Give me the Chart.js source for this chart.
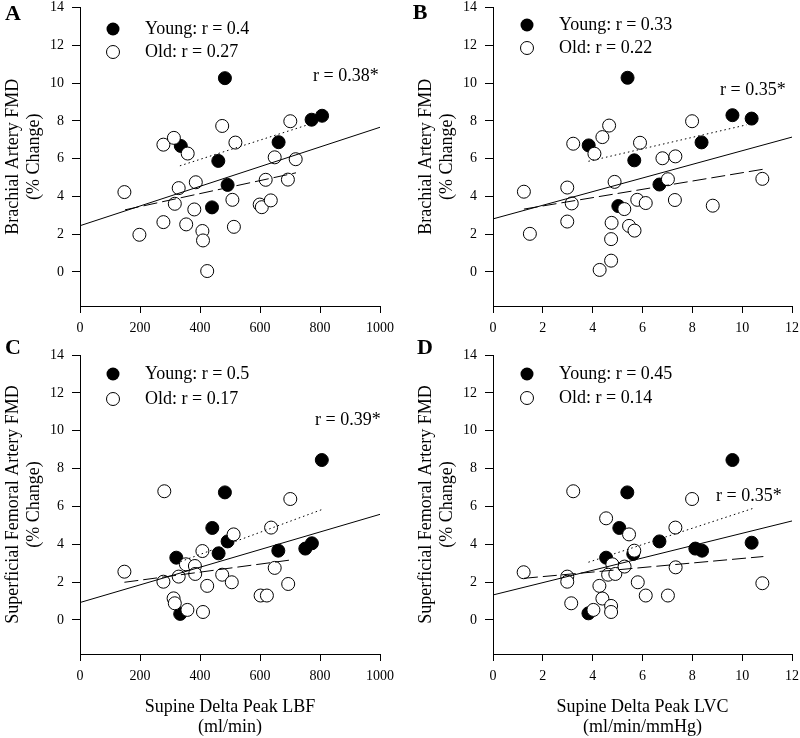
<!DOCTYPE html>
<html>
<head>
<meta charset="utf-8">
<script src="https://cdn.jsdelivr.net/npm/chart.js@4.4.1/dist/chart.umd.min.js"></script>
<style>
  body { margin: 0; background: #fff; }
  #wrap { position: relative; width: 800px; height: 738px; overflow: hidden; }
  canvas { position: absolute; }
</style>
</head>
<body>
<div id="wrap">
  <canvas id="chartA" width="400" height="345" style="left:0px;top:0px"></canvas>
  <canvas id="chartB" width="400" height="345" style="left:400px;top:0px"></canvas>
  <canvas id="chartC" width="400" height="408" style="left:0px;top:330px"></canvas>
  <canvas id="chartD" width="400" height="408" style="left:400px;top:330px"></canvas>
</div>
<script>
// ---- data ----
var lbfTicks = [0, 200, 400, 600, 800, 1000];
var lvcTicks = [0, 2, 4, 6, 8, 10, 12];
var fmdTicks = [0, 2, 4, 6, 8, 10, 12, 14];

// A: brachial FMD vs LBF
var aYoungX = [483, 336, 461, 492, 440, 662, 772, 807];
var aYoungY = [10.26, 6.67, 5.88, 4.61, 3.42, 6.87, 8.06, 8.27];
var aOldX = [148, 198, 278, 313, 359, 329, 386, 316, 381, 278, 354, 408, 410, 424, 474, 518, 508, 513, 599, 606, 636, 619, 649, 693, 701, 719];
var aOldY = [4.23, 1.97, 6.74, 7.10, 6.27, 4.44, 4.75, 3.61, 3.31, 2.64, 2.52, 2.17, 1.67, 0.05, 7.73, 6.85, 3.82, 2.39, 3.57, 3.43, 3.79, 4.88, 6.07, 4.89, 7.98, 5.97];
var aFitAllX = [0, 1000], aFitAllY = [2.45, 7.66];
var aFitYoungX = [333, 767], aFitYoungY = [5.62, 7.83];
var aFitOldX = [150, 720], aFitOldY = [3.29, 5.25];

// B: brachial FMD vs LVC
var bYoungX = [5.40, 3.84, 5.67, 6.68, 5.03, 8.37, 9.61, 10.38];
var bYoungY = [10.28, 6.70, 5.91, 4.63, 3.49, 6.86, 8.30, 8.12];
var bOldX = [1.24, 1.48, 3.22, 4.07, 4.39, 4.66, 2.98, 3.16, 2.98, 4.88, 5.27, 4.76, 4.74, 4.74, 4.28, 5.46, 5.68, 5.79, 6.13, 5.90, 6.80, 7.32, 7.02, 7.30, 7.99, 8.82, 10.81];
var bOldY = [4.25, 2.02, 6.79, 6.26, 7.14, 7.75, 4.47, 3.63, 2.67, 4.77, 3.33, 2.60, 1.74, 0.60, 0.11, 2.44, 2.19, 3.82, 3.65, 6.84, 6.02, 6.12, 4.91, 3.81, 7.98, 3.51, 4.93];
var bFitAllX = [0, 12], bFitAllY = [2.81, 7.14];
var bFitYoungX = [3.83, 10.18], bFitYoungY = [5.86, 7.79];
var bFitOldX = [1.24, 10.85], bFitOldY = [3.33, 5.44];

// C: femoral FMD vs LBF
var cYoungX = [483, 441, 492, 462, 321, 334, 661, 751, 773, 806];
var cYoungY = [6.74, 4.86, 4.15, 3.52, 3.29, 0.32, 3.66, 3.77, 4.05, 8.45];
var cOldX = [148, 281, 278, 329, 312, 316, 358, 353, 383, 384, 408, 424, 410, 474, 506, 512, 602, 623, 637, 649, 694, 701];
var cOldY = [2.55, 6.80, 2.02, 2.29, 1.14, 0.88, 0.53, 2.94, 2.85, 2.43, 3.64, 1.80, 0.42, 2.39, 1.99, 4.52, 1.29, 1.29, 4.88, 2.75, 1.90, 6.39];
var cFitAllX = [0, 1000], cFitAllY = [0.92, 5.58];
var cFitYoungX = [321, 811], cFitYoungY = [3.0, 5.86];
var cFitOldX = [148, 703], cFitOldY = [1.99, 3.17];

// D: femoral FMD vs LVC
var dYoungX = [9.61, 5.39, 5.07, 6.68, 4.54, 5.63, 3.83, 8.12, 8.39, 10.38];
var dYoungY = [8.45, 6.74, 4.86, 4.15, 3.29, 3.49, 0.35, 3.77, 3.66, 4.08];
var dOldX = [1.23, 3.22, 2.98, 2.98, 3.14, 4.03, 4.27, 4.39, 4.74, 4.74, 4.54, 4.79, 4.62, 4.91, 5.28, 5.46, 5.67, 5.81, 6.13, 7.02, 7.32, 7.33, 7.99, 10.81];
var dOldY = [2.52, 6.80, 2.29, 2.02, 0.88, 0.53, 1.80, 1.13, 0.74, 0.42, 5.37, 2.94, 2.39, 2.43, 2.82, 4.52, 3.66, 1.99, 1.29, 1.29, 4.88, 2.78, 6.39, 1.94];
var dFitAllX = [0, 12], dFitAllY = [1.32, 5.23];
var dFitYoungX = [3.83, 10.45], dFitYoungY = [3.05, 5.90];
var dFitOldX = [1.24, 10.85], dFitOldY = [2.20, 3.35];

var FONT = "'Liberation Serif', 'Times New Roman', serif";

function pts(xs, ys) {
    var out = [];
    for (var i = 0; i < xs.length; i++) out.push({x: xs[i], y: ys[i]});
    return out;
}

function fitLine(xs, ys, dash) {
    return {
        type: 'line',
        data: pts(xs, ys),
        borderColor: '#000',
        borderWidth: 1,
        borderDash: dash,
        pointRadius: 0,
        fill: false,
        tension: 0
    };
}

// panel letter, legend, r label
var notesPlugin = {
    id: 'notes',
    afterDraw: function(chart) {
        var n = chart.options.plugins.notes;
        var ctx = chart.ctx;
        ctx.save();
        ctx.fillStyle = '#000';
        ctx.textBaseline = 'middle';
        ctx.textAlign = 'center';
        ctx.font = 'bold 22px ' + FONT;
        ctx.fillText(n.letter, n.letterX, n.letterY);

        ctx.textAlign = 'left';
        ctx.font = '18px ' + FONT;
        ctx.lineWidth = 1;
        ctx.strokeStyle = '#000';
        ctx.beginPath();
        ctx.arc(n.legX, n.legY1, 6.5, 0, Math.PI * 2);
        ctx.fill();
        ctx.beginPath();
        ctx.fillStyle = '#fff';
        ctx.arc(n.legX, n.legY2, 6.5, 0, Math.PI * 2);
        ctx.fill();
        ctx.stroke();
        ctx.fillStyle = '#000';
        ctx.fillText(n.young, n.textX, n.legY1);
        ctx.fillText(n.old, n.textX, n.legY2);
        ctx.fillText(n.r, n.rX, n.rY);
        ctx.restore();
    }
};

function makePanel(id, p) {
    var ctx = document.getElementById(id);
    return new Chart(ctx, {
        type: 'scatter',
        data: {
            datasets: [
                fitLine(p.fitAllX, p.fitAllY, []),
                fitLine(p.fitYoungX, p.fitYoungY, [1.5, 3]),
                fitLine(p.fitOldX, p.fitOldY, [14, 5]),
                {
                    label: 'Old',
                    data: pts(p.oldX, p.oldY),
                    backgroundColor: '#fff',
                    borderColor: '#000',
                    borderWidth: 1,
                    pointRadius: 6.5
                },
                {
                    label: 'Young',
                    data: pts(p.youngX, p.youngY),
                    backgroundColor: '#000',
                    borderColor: '#000',
                    borderWidth: 1,
                    pointRadius: 6.5
                }
            ]
        },
        options: {
            responsive: false,
            animation: false,
            devicePixelRatio: 1,
            clip: false,
            layout: {padding: p.pad},
            plugins: {
                legend: {display: false},
                tooltip: {enabled: false},
                notes: p.notes
            },
            scales: {
                x: {
                    type: 'linear',
                    min: 0,
                    max: p.xTicks[p.xTicks.length - 1],
                    afterBuildTicks: function(scale) {
                        scale.ticks = p.xTicks.map(function(v) { return {value: v}; });
                    },
                    afterFit: function(scale) {
                        scale.height = p.xh;
                        scale.paddingLeft = 0;
                        scale.paddingRight = 0;
                    },
                    border: {display: true, color: '#000', width: 1},
                    grid: {drawOnChartArea: false, drawTicks: true, tickLength: 7, color: '#000'},
                    ticks: {
                        color: '#000', padding: 7, maxRotation: 0,
                        font: {family: FONT, size: 14},
                        callback: function(v) { return String(v); }
                    },
                    title: {
                        display: p.xTitle != null,
                        text: p.xTitle,
                        color: '#000',
                        padding: {top: 0, bottom: 0},
                        font: {family: FONT, size: 18, lineHeight: 1.15}
                    }
                },
                y: {
                    type: 'linear',
                    min: -1.8,
                    max: 14,
                    afterBuildTicks: function(scale) {
                        scale.ticks = fmdTicks.map(function(v) { return {value: v}; });
                    },
                    afterFit: function(scale) {
                        scale.width = p.yw;
                        scale.paddingTop = 0;
                        scale.paddingBottom = 0;
                    },
                    border: {display: true, color: '#000', width: 1},
                    grid: {drawOnChartArea: false, drawTicks: true, tickLength: 8, color: '#000'},
                    ticks: {
                        color: '#000', padding: 8,
                        font: {family: FONT, size: 14},
                        callback: function(v) { return String(v); }
                    },
                    title: {
                        display: true,
                        text: p.yTitle,
                        color: '#000',
                        padding: {top: p.yTitlePad, bottom: 0},
                        font: {family: FONT, size: 18, lineHeight: 1.2}
                    }
                }
            }
        },
        plugins: [notesPlugin]
    });
}

var brachial = ['Brachial Artery FMD', '(% Change)'];
var femoral = ['Superficial Femoral Artery FMD', '(% Change)'];

makePanel('chartA', {
    youngX: aYoungX, youngY: aYoungY, oldX: aOldX, oldY: aOldY,
    fitAllX: aFitAllX, fitAllY: aFitAllY, fitYoungX: aFitYoungX, fitYoungY: aFitYoungY, fitOldX: aFitOldX, fitOldY: aFitOldY,
    xTicks: lbfTicks, xTitle: null, yTitle: brachial, yTitlePad: 2,
    pad: {left: 0, top: 7, right: 20, bottom: 0}, yw: 80, xh: 39,
    notes: {letter: 'A', letterX: 13, letterY: 14, legX: 113, legY1: 29, legY2: 52, textX: 145,
            young: 'Young: r = 0.4', old: 'Old: r = 0.27', r: 'r = 0.38*', rX: 313, rY: 76}
});

makePanel('chartB', {
    youngX: bYoungX, youngY: bYoungY, oldX: bOldX, oldY: bOldY,
    fitAllX: bFitAllX, fitAllY: bFitAllY, fitYoungX: bFitYoungX, fitYoungY: bFitYoungY, fitOldX: bFitOldX, fitOldY: bFitOldY,
    xTicks: lvcTicks, xTitle: null, yTitle: brachial, yTitlePad: 15,
    pad: {left: 0, top: 7, right: 8, bottom: 0}, yw: 93, xh: 39,
    notes: {letter: 'B', letterX: 20, letterY: 13, legX: 127, legY1: 25, legY2: 48, textX: 159,
            young: 'Young: r = 0.33', old: 'Old: r = 0.22', r: 'r = 0.35*', rX: 320, rY: 90}
});

makePanel('chartC', {
    youngX: cYoungX, youngY: cYoungY, oldX: cOldX, oldY: cOldY,
    fitAllX: cFitAllX, fitAllY: cFitAllY, fitYoungX: cFitYoungX, fitYoungY: cFitYoungY, fitOldX: cFitOldX, fitOldY: cFitOldY,
    xTicks: lbfTicks, xTitle: ['Supine Delta Peak LBF', '(ml/min)'], yTitle: femoral, yTitlePad: 2,
    pad: {left: 0, top: 25, right: 20, bottom: 0}, yw: 80, xh: 84,
    notes: {letter: 'C', letterX: 13, letterY: 18, legX: 113, legY1: 44, legY2: 69, textX: 145,
            young: 'Young: r = 0.5', old: 'Old: r = 0.17', r: 'r = 0.39*', rX: 315, rY: 90}
});

makePanel('chartD', {
    youngX: dYoungX, youngY: dYoungY, oldX: dOldX, oldY: dOldY,
    fitAllX: dFitAllX, fitAllY: dFitAllY, fitYoungX: dFitYoungX, fitYoungY: dFitYoungY, fitOldX: dFitOldX, fitOldY: dFitOldY,
    xTicks: lvcTicks, xTitle: ['Supine Delta Peak LVC', '(ml/min/mmHg)'], yTitle: femoral, yTitlePad: 15,
    pad: {left: 0, top: 25, right: 8, bottom: 0}, yw: 93, xh: 84,
    notes: {letter: 'D', letterX: 25, letterY: 18, legX: 127, legY1: 44, legY2: 68, textX: 159,
            young: 'Young: r = 0.45', old: 'Old: r = 0.14', r: 'r = 0.35*', rX: 316, rY: 166}
});
</script>
</body>
</html>
